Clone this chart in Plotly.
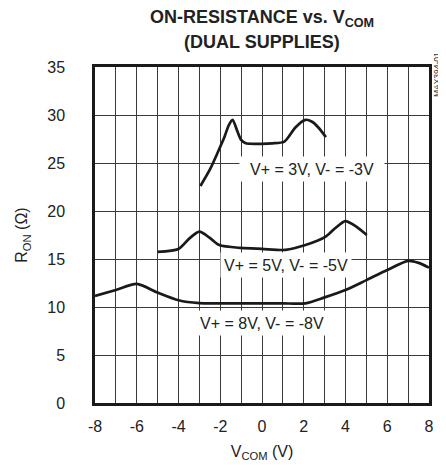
import plotly.graph_objects as go

# Data
x_3v = [-2.95, -2.5, -2.1, -1.8, -1.6, -1.41, -1.18, -1.0, -0.78, 0.0, 0.5, 1.05, 1.3, 1.6, 2.08, 2.4, 2.7, 3.06]
y_3v = [22.6, 24.3, 26.2, 27.7, 28.9, 29.5, 28.3, 27.4, 27.05, 27.0, 27.05, 27.2, 27.8, 28.7, 29.5, 29.3, 28.7, 27.7]

x_5v = [-5.0, -4.0, -3.5, -3.0, -2.5, -2.05, -1.0, 0.0, 1.13, 2.08, 3.03, 3.5, 3.99, 4.5, 5.02]
y_5v = [15.75, 16.05, 17.1, 17.85, 17.2, 16.45, 16.15, 16.05, 15.95, 16.45, 17.3, 18.2, 18.95, 18.4, 17.5]

x_8v = [-8.0, -7.0, -6.0, -5.0, -4.0, -3.0, -2.0, -1.0, 0.0, 1.0, 2.08, 3.0, 4.0, 5.0, 6.0, 7.0, 7.5, 8.0]
y_8v = [11.15, 11.77, 12.4, 11.5, 10.7, 10.4, 10.38, 10.38, 10.38, 10.38, 10.38, 11.0, 11.77, 12.8, 13.85, 14.8, 14.6, 14.1]

labels = ["V+ = 3V, V- = -3V", "V+ = 5V, V- = -5V", "V+ = 8V, V- = -8V"]
label_x = [2.4, 1.13, 0.0]
label_y = [24.4, 14.4, 8.3]
label_w = [142, 128, 124]

x_ticks = [-8, -6, -4, -2, 0, 2, 4, 6, 8]
x_tick_text = ["-8", "-6", "-4", "-2", "0", "2", "4", "6", "8"]
y_ticks = [0, 5, 10, 15, 20, 25, 30, 35]
y_tick_text = ["0", "5", "10", "15", "20", "25", "30", "35"]

FONT = "Arial, Liberation Sans, sans-serif"
INK = "#1a1a1a"

fig = go.Figure()
for xs, ys in [(x_3v, y_3v), (x_5v, y_5v), (x_8v, y_8v)]:
    fig.add_trace(go.Scatter(x=xs, y=ys, mode="lines",
                             line=dict(color=INK, width=2.7, shape="spline", smoothing=0.7),
                             showlegend=False, hoverinfo="skip"))

for t, lx, ly, w in zip(labels, label_x, label_y, label_w):
    fig.add_annotation(x=lx, y=ly, text=t, showarrow=False, bgcolor="white",
                       width=w, height=22, font=dict(size=16, color="#222", family=FONT))

# title lines
fig.add_annotation(x=0.5, y=1.143, xref="paper", yref="paper", xanchor="center", yanchor="middle",
                   text="<b>ON-RESISTANCE vs. V<sub>COM</sub></b>", showarrow=False,
                   font=dict(size=18, color="#222", family=FONT))
fig.add_annotation(x=0.5, y=1.074, xref="paper", yref="paper", xanchor="center", yanchor="middle",
                   text="<b>(DUAL SUPPLIES)</b>", showarrow=False,
                   font=dict(size=18, color="#222", family=FONT))

fig.add_annotation(x=1.026, y=0.978, xref="paper", yref="paper", xanchor="center", yanchor="middle",
                   text="MAX394-01", showarrow=False, textangle=-90,
                   font=dict(size=8.5, color="#333", family=FONT))

fig.update_layout(
    width=438, height=462,
    margin=dict(l=87, r=15, t=59, b=67),
    paper_bgcolor="white", plot_bgcolor="white",
    font=dict(family=FONT, size=16, color="#222"),
)

fig.update_xaxes(range=[-8, 8], tickvals=x_ticks, ticktext=x_tick_text, ticks="", showgrid=True,
                 gridcolor="#3a3a3a", gridwidth=1,
                 minor=dict(dtick=1, tick0=0, showgrid=True, gridcolor="#3a3a3a", gridwidth=1),
                 showline=True, linecolor=INK, linewidth=2.5, mirror=True,
                 zeroline=False, ticklabelstandoff=7,
                 title=dict(text="V<sub>COM</sub> (V)", standoff=12, font=dict(size=16)))
fig.update_yaxes(range=[0, 35], tickvals=y_ticks, ticktext=y_tick_text, ticks="", showgrid=True,
                 gridcolor="#3a3a3a", gridwidth=1,
                 showline=True, linecolor=INK, linewidth=2.5, mirror=True,
                 zeroline=False, ticklabelstandoff=24,
                 title=dict(text="R<sub>ON</sub> (Ω)", standoff=16, font=dict(size=16)))

fig.write_html("out.html")
